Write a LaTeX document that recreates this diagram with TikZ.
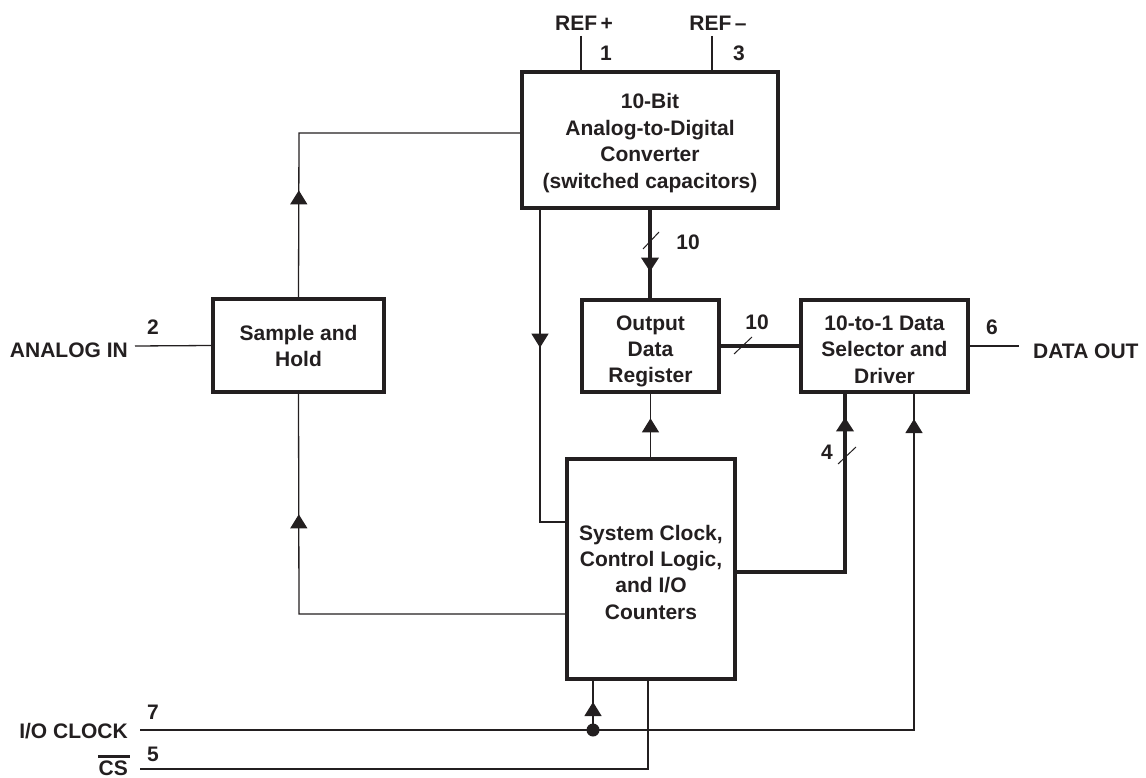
\documentclass[tikz,border=0pt]{standalone}
\usepackage{fontspec}
\setmainfont{Liberation Sans}
\usetikzlibrary{arrows.meta,decorations.markings}
\definecolor{ink}{HTML}{231F20}
\newcommand\topstrut[1]{\rule{0pt}{#1}}
\begin{document}
\begin{tikzpicture}[x=1pt,y=-1pt,
  every node/.style={font=\fontsize{21}{26.4}\selectfont\bfseries, text=ink, inner sep=0pt},
  blk/.style={draw=ink, line width=3.3pt, align=center},
  wire/.style={draw=ink, line width=1.3pt},
  bus/.style={draw=ink, line width=4.6pt},
  tick/.style={draw=ink, line width=1pt},
  tip at/.style={postaction={decorate},decoration={markings,
     mark=at position #1 with {\arrow[ink]{Triangle[width=17pt,length=14pt]}}}}]
\useasboundingbox (0,0) rectangle (1146,778);

% blocks
\node[blk, minimum width=256pt, minimum height=136pt] (adc) at (650,140)
  {\topstrut{21.5pt}10-Bit\\Analog-to-Digital\\Converter\\(switched capacitors)};
\node[blk, minimum width=171pt, minimum height=93pt] (sh) at (298.5,345.5)
  {\topstrut{16.5pt}Sample and\\Hold};
\node[blk, minimum width=137pt, minimum height=92pt] (odr) at (650.5,346)
  {\topstrut{25.5pt}Output\\Data\\Register};
\node[blk, minimum width=167pt, minimum height=92pt] (ds) at (884.5,346)
  {\topstrut{21.5pt}10-to-1 Data\\Selector and\\Driver};
\node[blk, minimum width=168pt, minimum height=220pt] (sys) at (651,569)
  {\topstrut{21.5pt}System Clock,\\Control Logic,\\and I/O\\Counters};

% pin labels
\node (refp) at (584,23) {REF\,+};
\node (refm) at (718,23) {REF\,–};
\node (p1) at (606,53) {1};
\node (p3) at (739,53) {3};
\node (p2) at (153,327) {2};
\node (p6) at (992,327) {6};
\node (p7) at (153,712) {7};
\node (p5) at (153,754) {5};
\node (b10a) at (688,242) {10};
\node (b10b) at (757,322) {10};
\node (b4) at (827,452) {4};
\node[anchor=east] (ain) at (128,350) {ANALOG IN};
\node[anchor=west] (dout) at (1033,351) {DATA OUT};
\node[anchor=east] (clk) at (128,731.5) {I/O CLOCK};
\node[anchor=east] (cs) at (128,768.5) {CS};
\draw[ink, line width=3pt] ([yshift=4.5pt]cs.north west) -- ([xshift=2pt,yshift=4.5pt]cs.north east);

% coordinates
\coordinate (rp) at (581,36);
\coordinate (rm) at (712,36);
\coordinate (k0) at (299,133);
\coordinate (k1) at (540,522);
\coordinate (k2) at (299,614);
\coordinate (k3) at (845,572);
\coordinate (ainl) at (135,346);
\coordinate (outl) at (1019,346);
\coordinate (clkin) at (140,730);
\coordinate (k4) at (914,730);
\coordinate (dot) at (593,730);
\coordinate (csin) at (140,769);
\coordinate (k5) at (648,769);
\coordinate (bx) at (650,0);

% reference inputs
\draw[wire] (rp) -- (rp |- adc.north);
\draw[wire] (rm) -- (rm |- adc.north);

% ADC -> sample and hold
\draw[wire, tip at=107pt] (sh.north) -- (k0) -- (k0 -| adc.west);
% ADC -> system
\draw[wire, tip at=138pt] (k1 |- adc.south) -- (k1) -- (k1 -| sys.west);
% system -> sample and hold
\draw[wire, tip at=366pt] (k2 -| sys.west) -- (k2) -- (sh.south);
% analog in
\draw[wire] (ainl) -- (sh.west);

% ADC -> output register bus
\draw[bus, tip at=62pt] (bx |- adc.south) -- (bx |- odr.north);
\draw[tick] (643,249) -- (659,232);
% output register -> selector bus
\draw[bus] (odr.east) -- (ds.west);
\draw[tick] (734,354) -- (752,337);
% selector -> data out
\draw[wire] (ds.east) -- (outl);
% system -> output register
\draw[wire, tip at=39pt] (odr.south |- sys.north) -- (odr.south);
% 4 bus
\draw[bus, tip at=263pt] (k3 -| sys.east) -- (k3) -- (k3 |- ds.south);
\draw[tick] (838,464) -- (856,447);

% I/O clock
\draw[wire, tip at=1085pt] (clkin) -- (k4) -- (k4 |- ds.south);
\fill[ink] (dot) circle (6.5);
\draw[wire, tip at=28pt] (dot) -- (dot |- sys.south);
% chip select
\draw[wire] (csin) -- (k5) -- (k5 |- sys.south);
\end{tikzpicture}
\end{document}
